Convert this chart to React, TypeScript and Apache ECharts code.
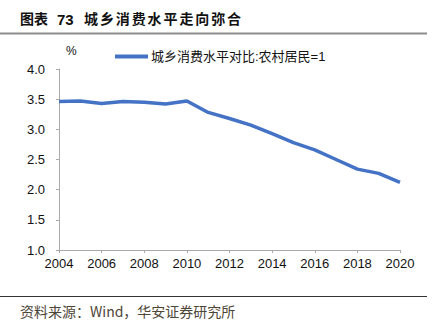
import React, { useEffect, useRef } from "react";
import * as echarts from "echarts";

const years = [2004, 2005, 2006, 2007, 2008, 2009, 2010, 2011, 2012, 2013, 2014, 2015, 2016, 2017, 2018, 2019, 2020];
const ratio = [3.46, 3.47, 3.43, 3.46, 3.45, 3.42, 3.47, 3.28, 3.18, 3.07, 2.93, 2.78, 2.66, 2.50, 2.34, 2.27, 2.12];
const seriesName = "城乡消费水平对比:农村居民=1";
const titleParts = ["图表", "73", "城乡消费水平走向弥合"];
const sourceText = "资料来源：Wind，华安证券研究所";

export default function App() {
  const ref = useRef<HTMLDivElement>(null);
  useEffect(() => {
    document.body.style.margin = "0";
    const chart = echarts.init(ref.current!, null, { renderer: "svg" });
    const font = "'Liberation Sans', Arial, 'Noto Sans CJK SC', sans-serif";
    const cjk = "'Noto Sans CJK SC', 'Liberation Sans', sans-serif";

    // title: CJK characters with slight tracking
    const titleEls: any[] = [];
    const pitch = 15.9;
    const partStarts = [20, 57, 84];
    titleParts.forEach((part, pi) => {
      if (pi === 1) {
        titleEls.push({
          type: "text",
          left: partStarts[pi],
          top: 12,
          style: { text: part, fontSize: 15, fontWeight: "bold", fill: "#111", fontFamily: font },
        });
      } else {
        Array.from(part).forEach((ch, ci) => {
          titleEls.push({
            type: "text",
            left: partStarts[pi] + ci * (pi === 0 ? 14 : pitch),
            top: 11,
            style: { text: ch, fontSize: 14, fontWeight: "bold", fill: "#111", fontFamily: cjk },
          });
        });
      }
    });

    chart.setOption({
      animation: false,
      backgroundColor: "#ffffff",
      textStyle: { fontFamily: font },
      grid: { left: 59, right: 41, top: 69, bottom: 79 },
      legend: {
        data: [seriesName],
        left: 115,
        top: 50,
        padding: 0,
        itemWidth: 33,
        itemHeight: 4,
        itemGap: 3,
        icon: "rect",
        textStyle: { fontSize: 13, color: "#111", fontFamily: font, padding: [0, 0, 0, -2] },
      },
      xAxis: {
        type: "value",
        min: 2004,
        max: 2020,
        interval: 2,
        splitLine: { show: false },
        axisLine: { lineStyle: { color: "#aaaaaa", width: 1 } },
        axisTick: { show: true, length: 3, lineStyle: { color: "#aaaaaa" } },
        axisLabel: { color: "#111", fontSize: 13, margin: 7, formatter: (v: number) => String(v) },
      },
      yAxis: {
        type: "value",
        min: 1,
        max: 4,
        interval: 0.5,
        splitLine: { show: false },
        axisLine: { show: true, lineStyle: { color: "#aaaaaa", width: 1 } },
        axisTick: { show: true, length: 3, lineStyle: { color: "#aaaaaa" } },
        axisLabel: { color: "#111", fontSize: 13, margin: 14, formatter: (v: number) => v.toFixed(1) },
      },
      series: [
        {
          name: seriesName,
          type: "line",
          data: years.map((y, i) => [y, ratio[i]]),
          symbol: "none",
          lineStyle: { color: "#4472C4", width: 3.5 },
          itemStyle: { color: "#4472C4" },
        },
      ],
      graphic: [
        ...titleEls,
        {
          type: "line",
          shape: { x1: 0, y1: 33.5, x2: 427, y2: 33.5 },
          style: { stroke: "#8c8c8c", lineWidth: 2 },
        },
        {
          type: "text",
          left: 66,
          top: 45,
          style: { text: "%", fontSize: 12, fill: "#111", fontFamily: font },
        },
        {
          type: "line",
          shape: { x1: 0, y1: 296.5, x2: 427, y2: 296.5 },
          style: { stroke: "#333333", lineWidth: 1 },
        },
        {
          type: "text",
          left: 20,
          top: 304,
          style: { text: sourceText, fontSize: 14, fill: "#4d4536", fontFamily: cjk },
        },
      ],
    });
    return () => chart.dispose();
  }, []);
  return <div ref={ref} style={{ position: "absolute", left: 0, top: 0, width: 441, height: 329 }} />;
}
